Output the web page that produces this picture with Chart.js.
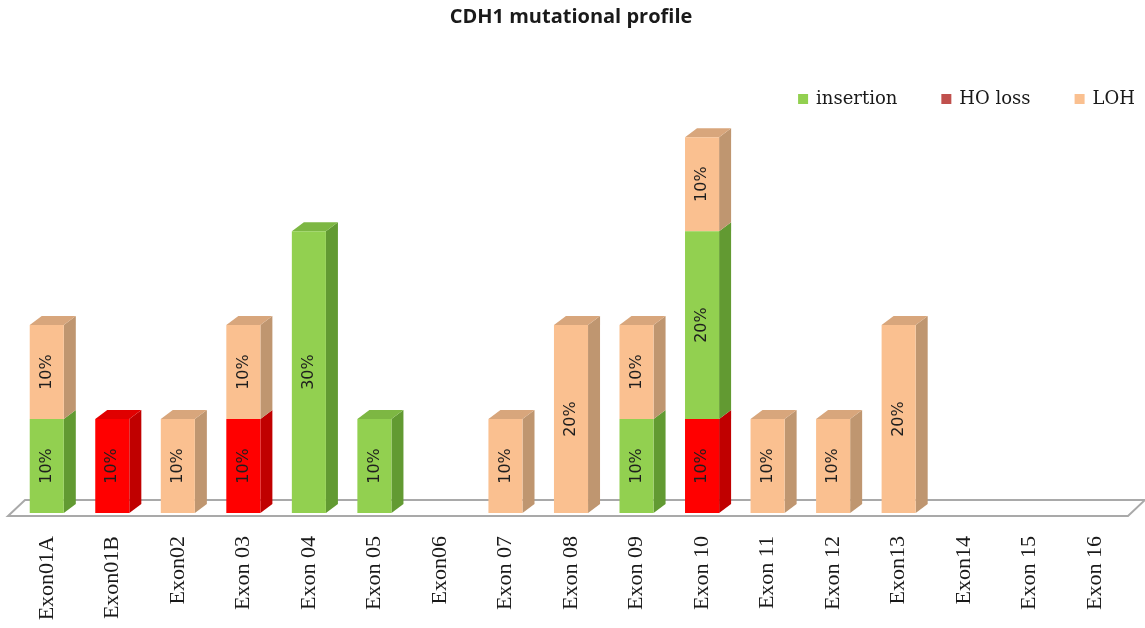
<!DOCTYPE html>
<html>
<head>
<meta charset="utf-8">
<script src="https://cdn.jsdelivr.net/npm/chart.js@4.4.1/dist/chart.umd.min.js"></script>
<style>
  html, body { margin: 0; padding: 0; background: #fff; }
  #wrap { width: 1145px; height: 628px; }
</style>
</head>
<body>
<div id="wrap"><canvas id="profileChart" width="1145" height="628"></canvas></div>
<script>
// categories and series (percent of cases)
const exons = ['Exon01A', 'Exon01B', 'Exon02', 'Exon 03', 'Exon 04', 'Exon 05', 'Exon06', 'Exon 07', 'Exon 08',
  'Exon 09', 'Exon 10', 'Exon 11', 'Exon 12', 'Exon13', 'Exon14', 'Exon 15', 'Exon 16'];
const insertion = [10, 0, 0, 0, 30, 10, 0, 0, 0, 10, 20, 0, 0, 0, 0, 0, 0];
const hoLoss = [0, 10, 0, 10, 0, 0, 0, 0, 0, 0, 10, 0, 0, 0, 0, 0, 0];
const loh = [10, 0, 10, 10, 0, 0, 0, 10, 20, 10, 10, 10, 10, 20, 0, 0, 0];
const legendOrder = ['insertion', 'HO loss', 'LOH'];

// face colours: front, side, top
const shades = {
  'insertion': { front: '#92d050', side: '#629a32', top: '#7db743', legend: '#92d050' },
  'HO loss': { front: '#ff0000', side: '#c00000', top: '#e00000', legend: '#c0504d' },
  'LOH': { front: '#fac090', side: '#bf9670', top: '#d8a67c', legend: '#fac090' }
};
const DEPTH_X = 12, DEPTH_Y = 9;

// floor + side/top faces, drawn behind the front faces
const box3d = {
  id: 'box3d',
  beforeDatasetsDraw(chart) {
    const { ctx, chartArea, scales } = chart;
    const y0 = scales.y.getPixelForValue(0);
    ctx.save();
    ctx.beginPath();
    ctx.moveTo(chartArea.left - 6, y0 + 3);
    ctx.lineTo(chartArea.right, y0 + 3);
    ctx.lineTo(chartArea.right + 17, y0 - 13);
    ctx.lineTo(chartArea.left + 11, y0 - 13);
    ctx.closePath();
    ctx.fillStyle = '#ffffff';
    ctx.fill();
    ctx.strokeStyle = '#a9a9a9';
    ctx.lineWidth = 2;
    ctx.stroke();

    const n = chart.data.labels.length;
    for (let i = 0; i < n; i++) {
      let topDs = -1;
      chart.data.datasets.forEach((ds, d) => { if (ds.data[i] > 0) topDs = d; });
      chart.data.datasets.forEach((ds, d) => {
        if (!(ds.data[i] > 0)) return;
        const bar = chart.getDatasetMeta(d).data[i];
        const p = bar.getProps(['x', 'y', 'base', 'width'], true);
        const left = p.x - p.width / 2, right = p.x + p.width / 2;
        const c = shades[ds.label];
        ctx.beginPath();
        ctx.moveTo(right, p.base);
        ctx.lineTo(right + DEPTH_X, p.base - DEPTH_Y);
        ctx.lineTo(right + DEPTH_X, p.y - DEPTH_Y);
        ctx.lineTo(right, p.y);
        ctx.closePath();
        ctx.fillStyle = c.side;
        ctx.fill();
        if (d === topDs) {
          ctx.beginPath();
          ctx.moveTo(left, p.y);
          ctx.lineTo(left + DEPTH_X, p.y - DEPTH_Y);
          ctx.lineTo(right + DEPTH_X, p.y - DEPTH_Y);
          ctx.lineTo(right, p.y);
          ctx.closePath();
          ctx.fillStyle = c.top;
          ctx.fill();
        }
      });
    }
    ctx.restore();
  },
  afterDatasetsDraw(chart) {
    // rotated value labels
    const { ctx } = chart;
    ctx.save();
    ctx.font = '16px "DejaVu Sans"';
    ctx.fillStyle = '#1e1e1e';
    ctx.textAlign = 'center';
    ctx.textBaseline = 'middle';
    chart.data.datasets.forEach((ds, d) => {
      chart.getDatasetMeta(d).data.forEach((bar, i) => {
        if (!(ds.data[i] > 0)) return;
        const p = bar.getProps(['x', 'y', 'base'], true);
        ctx.save();
        ctx.translate(p.x, (p.y + p.base) / 2);
        ctx.rotate(-Math.PI / 2);
        ctx.fillText(ds.data[i] + '%', 0, 0);
        ctx.restore();
      });
    });
    ctx.restore();
  },
  afterDraw(chart) {
    // legend in the top-right corner
    const { ctx } = chart;
    ctx.save();
    ctx.font = '18px "DejaVu Serif"';
    ctx.textBaseline = 'middle';
    ctx.textAlign = 'left';
    const boxSize = 10, boxGap = 8, itemGap = 44, yMid = 99;
    const widths = legendOrder.map(t => ctx.measureText(t).width);
    let total = widths.reduce((a, b) => a + b, 0) + legendOrder.length * (boxSize + boxGap) + (legendOrder.length - 1) * itemGap;
    let x = 1135 - total;
    legendOrder.forEach((name, k) => {
      ctx.fillStyle = shades[name].legend;
      ctx.fillRect(x, yMid - boxSize / 2, boxSize, boxSize);
      x += boxSize + boxGap;
      ctx.fillStyle = '#1a1a1a';
      ctx.fillText(name, x, yMid);
      x += widths[k] + itemGap;
    });
    ctx.restore();
  }
};

// HO loss is the bottom segment, then insertion, then LOH
const datasets = [
  { label: 'HO loss', data: hoLoss },
  { label: 'insertion', data: insertion },
  { label: 'LOH', data: loh }
].map(ds => ({
  ...ds,
  backgroundColor: shades[ds.label].front,
  borderWidth: 0,
  categoryPercentage: 1,
  barPercentage: 0.52
}));

new Chart(document.getElementById('profileChart'), {
  type: 'bar',
  data: { labels: exons, datasets },
  plugins: [box3d],
  options: {
    responsive: false,
    animation: false,
    devicePixelRatio: 1,
    layout: { padding: { left: 14, right: 17, top: 0, bottom: 0 } },
    plugins: {
      legend: { display: false },
      tooltip: { enabled: false },
      title: {
        display: true,
        text: 'CDH1 mutational profile',
        color: '#1a1a1a',
        font: { family: '"Open Sans"', size: 20, weight: 'bold', lineHeight: 1.2 },
        padding: { top: 5, bottom: 33 }
      }
    },
    scales: {
      x: {
        stacked: true,
        grid: { display: false },
        border: { display: false },
        ticks: {
          autoSkip: false,
          maxRotation: 90,
          minRotation: 90,
          padding: 15,
          color: '#1a1a1a',
          font: { family: '"Liberation Serif"', size: 22 }
        },
        afterFit(scale) { scale.height = 115; }
      },
      y: {
        stacked: true,
        display: false,
        min: 0,
        max: 48
      }
    }
  }
});
</script>
</body>
</html>
